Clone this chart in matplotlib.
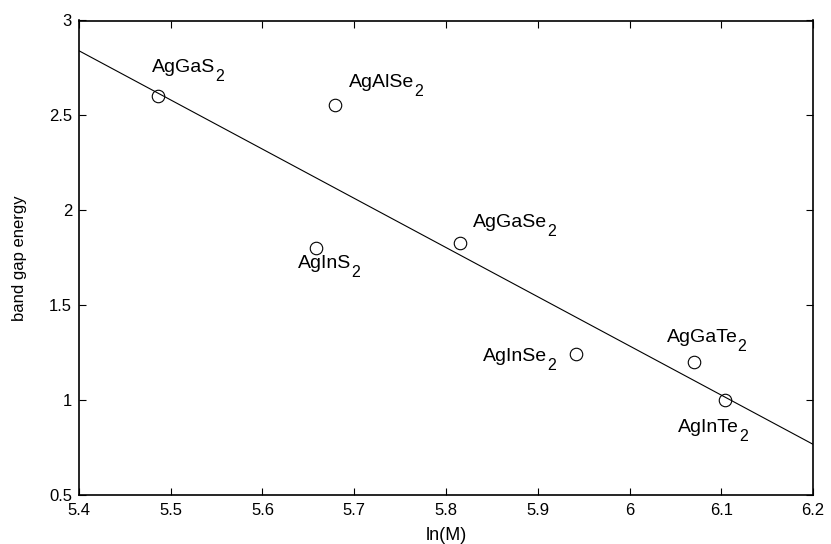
import numpy as np
import matplotlib.pyplot as plt

plt.rcParams['font.family'] = ['Liberation Sans', 'DejaVu Sans']

compounds = ['AgGaS2', 'AgAlSe2', 'AgInS2', 'AgGaSe2',
             'AgInSe2', 'AgGaTe2', 'AgInTe2']
ln_m = [5.486, 5.679, 5.658, 5.815, 5.942, 6.070, 6.104]
gap = [2.60, 2.555, 1.80, 1.83, 1.243, 1.20, 1.00]

# label offsets (left edge, baseline) from the marker, in pixels
offsets = [(-6, 24), (14, 18), (-18, -20), (13, 16),
           (-93, -7), (-27, 20), (-47, -32)]

fig = plt.figure(figsize=(8.31, 5.44), dpi=100)
ax = fig.add_axes([79 / 831, 1 - 495 / 544, (813 - 79) / 831, (495 - 20.5) / 544])

# least squares fit
p = np.polyfit(ln_m, gap, 1)
xf = np.array([5.4, 6.2])
ax.plot(xf, np.polyval(p, xf), color='black', lw=0.8)

ax.plot(ln_m, gap, 'o', mfc='none', mec='black', ms=9, mew=0.8)

for name, x, y, (dx, dy) in zip(compounds, ln_m, gap, offsets):
    t = ax.annotate(name[:-1], (x, y), xytext=(dx, dy), textcoords='offset pixels',
                    ha='left', va='baseline', fontsize=14)
    # subscript as its own text, placed after the main text
    ax.annotate(name[-1], xy=(1, 0), xycoords=t, xytext=(0, -5),
                textcoords='offset pixels', ha='left', va='baseline', fontsize=11.5)

ax.set_xlim(5.4, 6.2)
ax.set_ylim(0.5, 3)
ax.set_xticks([5.4, 5.5, 5.6, 5.7, 5.8, 5.9, 6, 6.1, 6.2])
ax.set_xticklabels(['5.4', '5.5', '5.6', '5.7', '5.8', '5.9', '6', '6.1', '6.2'])
ax.set_yticks([0.5, 1, 1.5, 2, 2.5, 3])
ax.set_yticklabels(['0.5', '1', '1.5', '2', '2.5', '3'])
ax.tick_params(direction='in', top=True, right=True, length=5, width=0.8,
               labelsize=12)
ax.tick_params(axis='x', pad=6)
ax.tick_params(axis='y', pad=5)
for s in ax.spines.values():
    s.set_linewidth(1.2)

ax.set_xlabel('ln(M)', fontsize=13, labelpad=6)
ax.set_ylabel('band gap energy', fontsize=12, labelpad=16)

fig.savefig('out.png', dpi=100)
